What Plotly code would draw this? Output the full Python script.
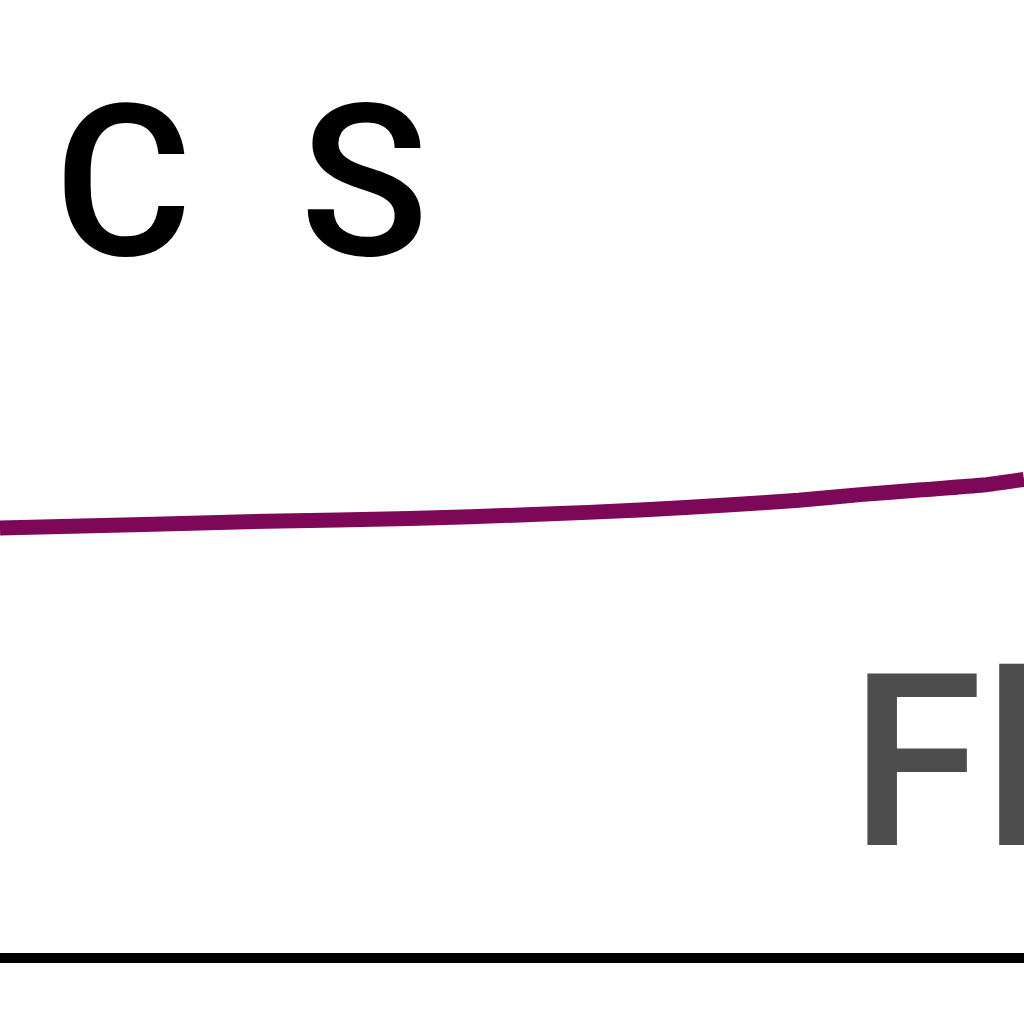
import plotly.graph_objects as go

# series (x in arbitrary units 0-10, y in % of plot height)
x_vals = [0, 1.5, 2.6, 4.0, 5.2, 6.3, 7.1, 7.8, 8.4, 9.0, 9.6, 10.0]
y_vals = [44.6, 45.0, 45.3, 45.6, 46.0, 46.5, 47.0, 47.5, 48.1, 48.6, 49.1, 49.7]

labels_top = ["C", "S"]
label_side = "Fl"

fig = go.Figure(go.Scatter(
    x=x_vals,
    y=y_vals,
    mode='lines',
    line=dict(color='#7d0858', width=15, shape='spline', smoothing=0.6),
    hoverinfo='skip',
))

PLOT_H = 953.0


def py(v):
    # pixel row -> paper fraction
    return (PLOT_H - v) / PLOT_H


fig.add_annotation(text=labels_top[0], xref='paper', yref='paper',
                   x=52 / 1024, y=py(182), xanchor='left', yanchor='middle',
                   showarrow=False,
                   font=dict(family='Roboto', size=212, color='black', weight=500))
fig.add_annotation(text=labels_top[1], xref='paper', yref='paper',
                   x=298 / 1024, y=py(182), xanchor='left', yanchor='middle',
                   showarrow=False,
                   font=dict(family='Roboto', size=212, color='black', weight=500))
fig.add_annotation(text=label_side, xref='paper', yref='paper',
                   x=848 / 1024, y=py(762), xanchor='left', yanchor='middle',
                   showarrow=False,
                   font=dict(family='Roboto', size=241, color='#4d4d4d', weight=500))

fig.update_layout(
    width=1024, height=1024,
    margin=dict(l=0, r=0, t=0, b=1024 - 953, pad=0),
    paper_bgcolor='white',
    plot_bgcolor='white',
    showlegend=False,
    xaxis=dict(range=[0, 10], showgrid=False, zeroline=False,
               showticklabels=False, ticks='',
               showline=True, linecolor='black', linewidth=10),
    yaxis=dict(range=[0, 100], showgrid=False, zeroline=False,
               showticklabels=False, ticks='', showline=False),
)

fig.write_html("out.html", config={'displayModeBar': False},
               post_script="document.body.style.margin='0';")
